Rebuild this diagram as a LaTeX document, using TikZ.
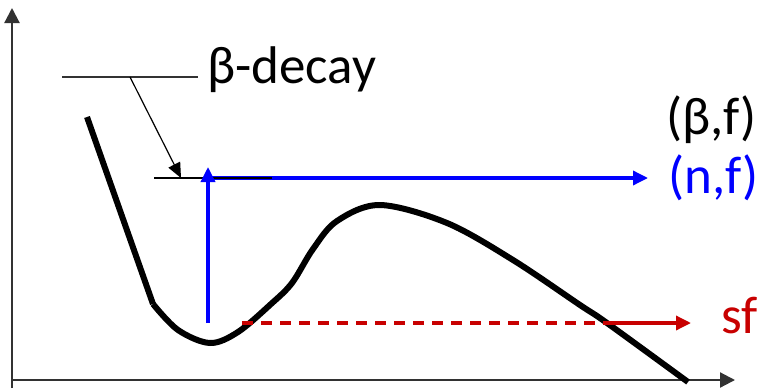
\documentclass[tikz,border=0pt]{standalone}
\usepackage{fontspec}
\setmainfont{Carlito}
\usetikzlibrary{arrows.meta,positioning}
\definecolor{axisgray}{RGB}{50,50,50}
\definecolor{sfred}{RGB}{200,0,0}
\definecolor{nfblue}{RGB}{0,0,255}

\begin{document}
\begin{tikzpicture}[
    x=1pt, y=-1pt,
    every node/.style={font=\fontsize{53}{60}\selectfont, inner sep=0pt},
    axis/.style={draw=axisgray, line width=2.2pt,
                -{Triangle[length=15pt,width=15pt]}},
    barrier/.style={draw=black, line width=6pt},
    leader/.style={draw=axisgray, line width=1.8pt},
    pointer/.style={draw=black, line width=1.2pt,
                -{Triangle[length=15pt,width=13pt]}},
    level/.style={draw=black, line width=2.2pt},
    nfarrow/.style={draw=nfblue, line width=3.4pt,
                -{Triangle[length=15pt,width=14pt]}},
    sfline/.style={draw=sfred, line width=3.4pt},
    label/.style={anchor=base west}
]
  \useasboundingbox (0,0) rectangle (759,388);

  % --- Axes ---
  \coordinate (origin) at (12,380);
  \coordinate (ytop)   at (12,8);
  \coordinate (xend)   at (735,380);
  \draw[axis] (12,388) -- (ytop);
  \draw[axis] (origin) -- (xend);

  % --- Fission barrier ---
  \draw[barrier] (87,117) -- (153,304);
  \draw[barrier] plot[smooth, tension=0.55] coordinates {
    (153,304) (178,330) (210,343) (238,332) (271,304) (292,283)
    (313,249) (337,221) (380,205) (447,223) (513,260) (580,305)
    (607,323) (688,382)};

  % --- Labels ---
  \node[label] (decay) at (207,83)  {β-decay};
  \node[label] (bf)    at (666,134) {(β,f)};
  \node[label, text=nfblue] (nf) at (668,193) {(n,f)};
  \node[label, text=sfred]  (sf) at (721,333) {sf};

  % --- β-decay leader ---
  \coordinate (leadL) at (62,77);
  \coordinate (leadR) at (198,77);
  \coordinate (leadK) at (130,77);
  \coordinate (bfL)   at (154,178);
  \coordinate (bfTip) at (181,178);
  \coordinate (bfR)   at (272,178);
  \draw[leader] (leadL) -- (leadR);
  \draw[pointer] (leadK) -- (bfTip);

  % --- (n,f) ---
  \coordinate (nfS)  at (208,323);
  \coordinate (nfT)  at (208,167);
  \coordinate (nfL)  at (208,178);
  \coordinate (nfR)  at (648,178);
  \draw[nfarrow] (nfL) -- (nfR);
  \draw[level] (bfL) -- (bfR);
  \draw[nfarrow] (nfS) -- (nfT);

  % --- sf ---
  \coordinate (sfS) at (242,323);
  \coordinate (sfX) at (607,323);
  \coordinate (sfT) at (691,323);
  \draw[sfline, dash pattern=on 11pt off 8pt] (sfS) -- (sfX);
  \draw[sfline, -{Triangle[length=15pt,width=14pt]}] (sfX) -- (sfT);
\end{tikzpicture}
\end{document}
